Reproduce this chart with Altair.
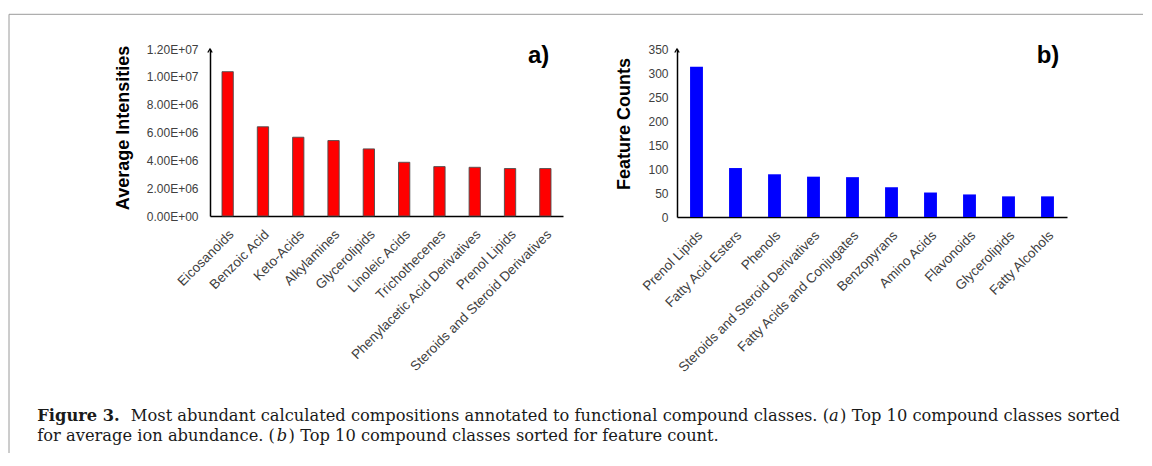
import altair as alt
import pandas as pd

# ---------------- data ----------------
classes_a = ["Eicosanoids", "Benzoic Acid", "Keto-Acids", "Alkylamines", "Glycerolipids",
             "Linoleic Acids", "Trichothecenes", "Phenylacetic Acid Derivatives",
             "Prenol Lipids", "Steroids and Steroid Derivatives"]
intensities_a = [10.37e6, 6.41e6, 5.66e6, 5.42e6, 4.82e6, 3.86e6, 3.55e6, 3.50e6, 3.41e6, 3.41e6]
y_ticks_a = [0, 2000000, 4000000, 6000000, 8000000, 10000000, 12000000]
y_labels_a = ["0.00E+00", "2.00E+06", "4.00E+06", "6.00E+06", "8.00E+06", "1.00E+07", "1.20E+07"]

classes_b = ["Prenol Lipids", "Fatty Acid Esters", "Phenols", "Steroids and Steroid Derivatives",
             "Fatty Acids and Conjugates", "Benzopyrans", "Amino Acids", "Flavonoids",
             "Glycerolipids", "Fatty Alcohols"]
counts_b = [313, 102, 89, 84, 83, 62, 51, 47, 43, 43]
y_ticks_b = [0, 50, 100, 150, 200, 250, 300, 350]

caption_line1 = [("Figure 3.", "bold"), ("Most abundant calculated compositions annotated to functional compound classes. (", "normal"),
                 ("a", "italic"), (") Top 10 compound classes sorted", "normal")]
caption_line2 = [("for average ion abundance. (", "normal"), ("b", "italic"),
                 (") Top 10 compound classes sorted for feature count.", "normal")]

# ---------------- caption metrics (approx. DejaVu Serif advance widths, em) ----------------
REG = {' ': .318, 'a': .596, 'b': .640, 'c': .560, 'd': .640, 'e': .592, 'f': .370, 'g': .640,
       'h': .644, 'i': .320, 'j': .320, 'k': .605, 'l': .320, 'm': .948, 'n': .644, 'o': .602,
       'p': .640, 'q': .640, 'r': .478, 's': .513, 't': .402, 'u': .644, 'v': .565, 'w': .856,
       'x': .564, 'y': .565, 'z': .523, '.': .318, ',': .318, '(': .390, ')': .390,
       'M': .873, 'T': .681, 'F': .681}
for dch in "0123456789":
    REG[dch] = .636
BOLD = {'F': .738, 'i': .421, 'g': .716, 'u': .757, 'r': .590, 'e': .678, ' ': .348, '3': .696, '.': .380}
ITAL = {'a': .596, 'b': .640}
TABLES = {"normal": REG, "bold": BOLD, "italic": ITAL}


def em_width(s, style):
    t = TABLES[style]
    return sum(t.get(ch, .6) for ch in s)


GAP_EM = 0.42
ITAL_PAD_EM = 0.09
line1_em = sum(em_width(s, st) for s, st in caption_line1) + GAP_EM + 2 * ITAL_PAD_EM
CAP_LEFT = -172.7          # relative to panel a plot origin
CAP_RIGHT = 911.7
cap_fs = (CAP_RIGHT - CAP_LEFT) / line1_em
CAP_Y1 = 371.5
CAP_Y2 = 391.5
CAP_FONT = "DejaVu Serif"

one = pd.DataFrame({"k": [0]})
LABEL_FONT = "Liberation Sans"


def caption_layers():
    layers = []
    for line, ypos in ((caption_line1, CAP_Y1), (caption_line2, CAP_Y2)):
        x = CAP_LEFT
        for s, st in line:
            kw = dict(font=CAP_FONT, fontSize=cap_fs, align="left", baseline="alphabetic",
                      color="#1a1a1a", text=s)
            if st == "bold":
                kw["fontWeight"] = "bold"
            if st == "italic":
                kw["fontStyle"] = "italic"
                x += ITAL_PAD_EM * cap_fs
            layers.append(alt.Chart(one).mark_text(**kw).encode(x=alt.value(x), y=alt.value(ypos)))
            x += em_width(s, st) * cap_fs
            if st == "bold":
                x += GAP_EM * cap_fs
            if st == "italic":
                x += ITAL_PAD_EM * cap_fs
    return layers


def x_axis():
    return alt.Axis(labelAngle=-45, labelAlign="right", labelBaseline="middle", labelPadding=16,
                    labelOffset=4, labelFontSize=13.5, labelColor="#404040", labelFont=LABEL_FONT,
                    labelLimit=400, labelOverlap=False, domainColor="#000000", domainWidth=1.6,
                    ticks=False, tickSize=0, title=None)


def arrow():
    return alt.Chart(one).mark_point(shape="M-0.7,1.1L0,0L0.7,1.1", filled=False, stroke="#000000",
                                     strokeWidth=1.3, size=40, opacity=1).encode(
        x=alt.value(0), y=alt.value(0))


# ---------------- panel a ----------------
df_a = pd.DataFrame({"cls": classes_a, "val": intensities_a})
label_expr_a = ("[" + ",".join("'%s'" % s for s in y_labels_a) + "][indexof(["
                + ",".join(str(v) for v in y_ticks_a) + "], datum.value)]")

bars_a = alt.Chart(df_a).mark_bar(color="#ff0000", stroke="#4d4d4d", strokeWidth=0.9).encode(
    x=alt.X("cls:N", sort=None, scale=alt.Scale(paddingInner=0.68, paddingOuter=0.34), axis=x_axis()),
    y=alt.Y("val:Q", scale=alt.Scale(domain=[0, 12000000], nice=False),
            axis=alt.Axis(values=y_ticks_a, labelExpr=label_expr_a, title="Average Intensities",
                          titleFont=LABEL_FONT, titleFontSize=18, titleFontWeight="bold",
                          titleColor="#000000", titlePadding=14, titleY=78.5,
                          labelFont=LABEL_FONT, labelFontSize=12, labelColor="#404040",
                          labelPadding=12, ticks=False, tickSize=0, grid=False,
                          domainColor="#000000", domainWidth=1.5)),
)

tag_a = alt.Chart(one).mark_text(text="a)", font=LABEL_FONT, fontSize=24, fontWeight="bold",
                                 align="left", baseline="alphabetic", color="#000000").encode(
    x=alt.value(318), y=alt.value(14))

frame_left = alt.Chart(one).mark_rule(color="#9a9a9a", strokeWidth=1).encode(
    x=alt.value(-201), y=alt.value(-34.7), y2=alt.value(404))
frame_top = alt.Chart(one).mark_rule(color="#9a9a9a", strokeWidth=1).encode(
    x=alt.value(-201), x2=alt.value(933), y=alt.value(-34.7))

chart_a = alt.layer(frame_left, frame_top, bars_a, arrow(), tag_a, *caption_layers()).properties(
    width=353, height=167)

# ---------------- panel b ----------------
df_b = pd.DataFrame({"cls": classes_b, "val": counts_b})
bars_b = alt.Chart(df_b).mark_bar(color="#0000ff").encode(
    x=alt.X("cls:N", sort=None, scale=alt.Scale(paddingInner=0.67, paddingOuter=0.335), axis=x_axis()),
    y=alt.Y("val:Q", scale=alt.Scale(domain=[0, 350], nice=False),
            axis=alt.Axis(values=y_ticks_b, title="Feature Counts",
                          titleFont=LABEL_FONT, titleFontSize=18, titleFontWeight="bold",
                          titleColor="#000000", titlePadding=14, titleY=74.5,
                          labelFont=LABEL_FONT, labelFontSize=12, labelColor="#404040",
                          labelPadding=9, ticks=False, tickSize=0, grid=False,
                          domainColor="#000000", domainWidth=1.5)),
)
tag_b = alt.Chart(one).mark_text(text="b)", font=LABEL_FONT, fontSize=24, fontWeight="bold",
                                 align="left", baseline="alphabetic", color="#000000").encode(
    x=alt.value(359.7), y=alt.value(14))

chart_b = alt.layer(bars_b, arrow(), tag_b).properties(width=390, height=168)

chart = alt.hconcat(chart_a, chart_b, spacing=114, bounds="flush").properties(
    padding={"left": 0, "top": 5, "right": 0, "bottom": 0},
    background="white",
).configure_view(strokeWidth=0)

chart.save("out.html", embed_options={"renderer": "svg", "actions": False})
